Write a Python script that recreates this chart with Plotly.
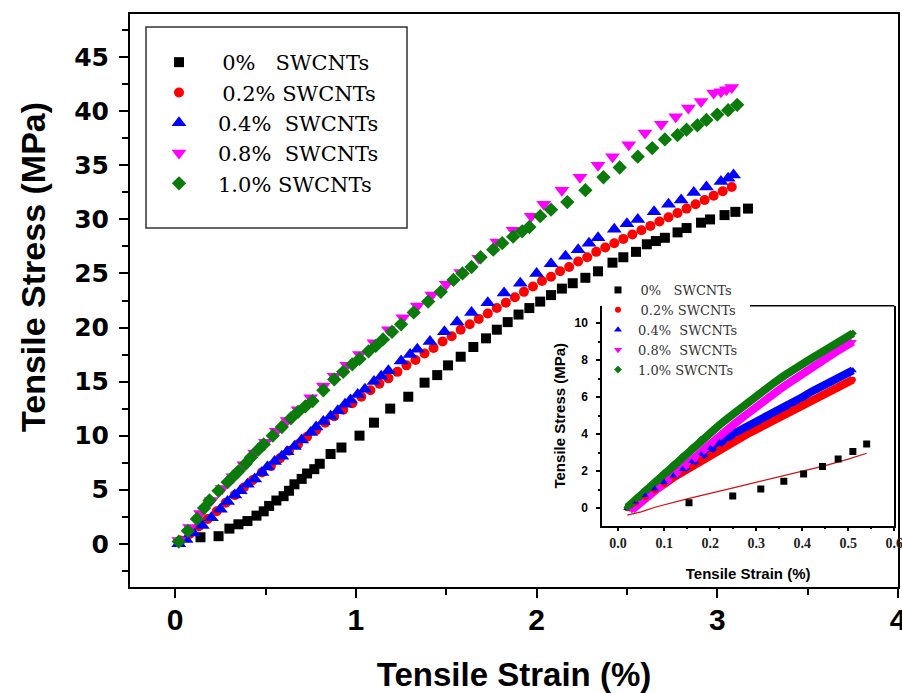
import plotly.graph_objects as go

# ---------------- main plot data ----------------
names_main = ["\u20090%\u00a0\u00a0\u00a0SWCNTs", "\u20090.2%\u00a0SWCNTs", "0.4%\u00a0\u00a0SWCNTs",
              "0.8%\u00a0\u00a0SWCNTs", "1.0%\u00a0SWCNTs"]

x_0 = [0.14, 0.24, 0.30, 0.35, 0.40, 0.45, 0.49, 0.52, 0.56, 0.60, 0.63, 0.66, 0.70, 0.73, 0.77,
       0.80, 0.86, 0.92, 1.02, 1.10, 1.19, 1.29, 1.38, 1.45, 1.51, 1.58, 1.65, 1.72, 1.78, 1.84,
       1.90, 1.96, 2.02, 2.08, 2.14, 2.20, 2.27, 2.34, 2.42, 2.48, 2.55, 2.61, 2.66, 2.71, 2.78,
       2.83, 2.91, 2.96, 3.04, 3.10, 3.17]
y_0 = [0.6, 0.7, 1.4, 1.8, 2.1, 2.6, 3.0, 3.5, 4.0, 4.4, 4.9, 5.5, 6.0, 6.5, 6.9,
       7.4, 8.3, 8.9, 10.0, 11.2, 12.5, 13.6, 14.9, 15.6, 16.5, 17.3, 18.2, 19.0, 19.8, 20.5,
       21.2, 21.8, 22.4, 23.0, 23.6, 24.1, 24.6, 25.2, 26.0, 26.5, 27.0, 27.7, 28.0, 28.3, 28.8,
       29.2, 29.7, 30.0, 30.4, 30.7, 31.0]

x_02 = [0.03, 0.08, 0.13, 0.18, 0.23, 0.28, 0.33, 0.38, 0.43, 0.48, 0.53, 0.58, 0.63, 0.68, 0.73,
        0.78, 0.83, 0.88, 0.93, 0.98, 1.03, 1.08, 1.13, 1.18, 1.23, 1.28, 1.33, 1.38, 1.43, 1.48,
        1.53, 1.58, 1.63, 1.68, 1.73, 1.78, 1.83, 1.88, 1.93, 1.98, 2.03, 2.08, 2.13, 2.18, 2.23,
        2.28, 2.33, 2.38, 2.43, 2.48, 2.53, 2.58, 2.63, 2.68, 2.73, 2.78, 2.83, 2.88, 2.93, 2.98,
        3.03, 3.08]
y_02 = [0.3, 0.9, 1.6, 2.3, 3.0, 3.8, 4.5, 5.2, 5.9, 6.6, 7.2, 7.9, 8.6, 9.2, 9.9,
        10.5, 11.2, 11.8, 12.4, 13.0, 13.6, 14.2, 14.8, 15.3, 15.9, 16.5, 17.0, 17.6, 18.1, 18.7,
        19.2, 19.8, 20.3, 20.8, 21.3, 21.8, 22.3, 22.8, 23.3, 23.8, 24.3, 24.7, 25.2, 25.6, 26.1,
        26.5, 27.0, 27.4, 27.8, 28.2, 28.6, 29.0, 29.4, 29.8, 30.2, 30.6, 31.0, 31.4, 31.8, 32.2,
        32.6, 33.0]

x_04 = [0.02, 0.06, 0.10, 0.15, 0.20, 0.25, 0.29, 0.33, 0.36, 0.40, 0.44, 0.48, 0.51, 0.55, 0.59,
        0.62, 0.66, 0.70, 0.75, 0.78, 0.82, 0.86, 0.90, 0.94, 0.97, 1.01, 1.05, 1.10, 1.14, 1.18,
        1.25, 1.30, 1.34, 1.41, 1.49, 1.56, 1.64, 1.73, 1.82, 1.91, 2.00, 2.08, 2.16, 2.23, 2.29,
        2.34, 2.43, 2.50, 2.56, 2.65, 2.73, 2.80, 2.87, 2.94, 3.02, 3.06, 3.09]
y_04 = [0.0, 0.4, 1.0, 1.7, 2.4, 3.2, 3.9, 4.5, 4.9, 5.5, 6.0, 6.6, 7.1, 7.6, 8.1,
        8.5, 9.0, 9.6, 10.3, 10.8, 11.3, 11.8, 12.3, 12.9, 13.3, 13.8, 14.3, 15.0, 15.5, 16.0,
        16.9, 17.5, 18.0, 18.7, 19.6, 20.5, 21.4, 22.3, 23.2, 24.1, 25.0, 25.9, 26.6, 27.2, 27.8,
        28.3, 29.1, 29.6, 30.0, 30.7, 31.4, 31.8, 32.5, 33.0, 33.5, 33.8, 34.1]

x_08 = [0.02, 0.08, 0.14, 0.20, 0.26, 0.32, 0.38, 0.44, 0.50, 0.56, 0.62, 0.68, 0.75, 0.82, 0.88,
        0.95, 1.02, 1.10, 1.18, 1.26, 1.34, 1.42, 1.50, 1.58, 1.68, 1.78, 1.87, 1.97, 2.04, 2.14,
        2.24, 2.34, 2.42, 2.51, 2.60, 2.69, 2.77, 2.84, 2.91, 2.98, 3.02, 3.05, 3.08]
y_08 = [0.3, 1.5, 2.8, 4.0, 5.1, 6.2, 7.3, 8.4, 9.4, 10.4, 11.4, 12.4, 13.5, 14.6, 15.5,
        16.5, 17.5, 18.6, 19.8, 20.9, 22.0, 23.0, 24.0, 25.1, 26.4, 27.9, 29.0, 30.3, 31.4, 32.7,
        33.9, 35.0, 35.8, 36.9, 38.0, 38.8, 39.5, 40.3, 40.9, 41.7, 41.8, 42.0, 42.2]

x_10 = [0.02, 0.07, 0.12, 0.16, 0.19, 0.24, 0.29, 0.32, 0.35, 0.39, 0.42, 0.46, 0.49, 0.54, 0.59,
        0.64, 0.68, 0.72, 0.76, 0.82, 0.88, 0.93, 0.98, 1.02, 1.07, 1.11, 1.15, 1.20, 1.25, 1.32,
        1.40, 1.47, 1.54, 1.59, 1.64, 1.69, 1.76, 1.81, 1.87, 1.92, 1.96, 2.02, 2.08, 2.17, 2.27,
        2.37, 2.46, 2.56, 2.64, 2.71, 2.78, 2.83, 2.89, 2.94, 3.00, 3.06, 3.11]
y_10 = [0.2, 1.2, 2.3, 3.3, 4.0, 4.9, 5.7, 6.2, 6.7, 7.4, 8.0, 8.7, 9.2, 10.0, 10.8,
        11.6, 12.2, 12.7, 13.2, 14.2, 15.2, 15.9, 16.6, 17.1, 17.8, 18.3, 18.9, 19.6, 20.3, 21.4,
        22.4, 23.3, 24.4, 25.0, 25.6, 26.5, 27.2, 27.8, 28.4, 28.9, 29.3, 30.3, 30.9, 31.6, 32.7,
        33.9, 34.8, 35.8, 36.6, 37.4, 37.8, 38.3, 38.7, 39.2, 39.7, 40.1, 40.6]

# ---------------- inset data ----------------
names_inset = ["\u20090%\u00a0\u00a0\u00a0SWCNTs", "\u20090.2%\u00a0SWCNTs", "0.4%\u00a0\u00a0SWCNTs",
               "0.8%\u00a0\u00a0SWCNTs", "1.0%\u00a0SWCNTs"]

ix_0 = [0.154, 0.249, 0.31, 0.36, 0.403, 0.444, 0.478, 0.51, 0.54]
iy_0 = [0.29, 0.65, 1.04, 1.46, 1.85, 2.25, 2.66, 3.06, 3.47]

ix_fit = [0.02, 0.05, 0.08, 0.15, 0.25, 0.35, 0.45, 0.50, 0.54]
iy_fit = [-0.38, -0.2, 0.05, 0.5, 1.1, 1.7, 2.3, 2.65, 2.97]

ix_02 = [0.02, 0.04, 0.06, 0.08, 0.10, 0.12, 0.14, 0.16, 0.18, 0.20, 0.22, 0.24, 0.26,
         0.28, 0.30, 0.32, 0.34, 0.36, 0.38, 0.40, 0.42, 0.44, 0.46, 0.48, 0.50, 0.51]
iy_02 = [0.0, 0.3, 0.6, 0.95, 1.3, 1.65, 1.95, 2.3, 2.6, 2.9, 3.2, 3.45, 3.75,
         4.0, 4.25, 4.5, 4.8, 5.05, 5.35, 5.6, 5.85, 6.1, 6.35, 6.6, 6.85, 6.95]

ix_04 = [0.02, 0.04, 0.06, 0.08, 0.10, 0.12, 0.14, 0.16, 0.18, 0.20, 0.22, 0.24, 0.26,
         0.28, 0.30, 0.32, 0.34, 0.36, 0.38, 0.40, 0.42, 0.44, 0.46, 0.48, 0.50, 0.51]
iy_04 = [0.0, 0.35, 0.7, 1.05, 1.4, 1.75, 2.1, 2.5, 2.9, 3.25, 3.55, 3.85, 4.15,
         4.4, 4.7, 5.0, 5.25, 5.5, 5.75, 6.0, 6.3, 6.55, 6.8, 7.05, 7.3, 7.45]

ix_08 = [0.03, 0.05, 0.07, 0.09, 0.11, 0.13, 0.15, 0.17, 0.19, 0.21, 0.23, 0.25, 0.27,
         0.29, 0.31, 0.33, 0.35, 0.37, 0.39, 0.41, 0.43, 0.45, 0.47, 0.49, 0.51]
iy_08 = [-0.1, 0.3, 0.7, 1.1, 1.5, 1.9, 2.35, 2.8, 3.25, 3.7, 4.1, 4.5, 4.9,
         5.3, 5.7, 6.05, 6.4, 6.75, 7.1, 7.45, 7.8, 8.1, 8.4, 8.7, 9.0]

ix_10 = [0.02, 0.04, 0.06, 0.08, 0.10, 0.12, 0.14, 0.16, 0.18, 0.20, 0.22, 0.24, 0.26,
         0.28, 0.30, 0.32, 0.34, 0.36, 0.38, 0.40, 0.42, 0.44, 0.46, 0.48, 0.50, 0.51]
iy_10 = [0.05, 0.5, 1.0, 1.45, 1.9, 2.35, 2.8, 3.25, 3.7, 4.1, 4.5, 4.9, 5.3,
         5.7, 6.1, 6.45, 6.8, 7.15, 7.5, 7.8, 8.1, 8.4, 8.7, 9.0, 9.3, 9.45]

main_x_ticks = [0, 1, 2, 3, 4]
main_y_ticks = [0, 5, 10, 15, 20, 25, 30, 35, 40, 45]
inset_x_ticks = [0.0, 0.1, 0.2, 0.3, 0.4, 0.5, 0.6]
inset_y_ticks = [0, 2, 4, 6, 8, 10]

# ---------------- styles ----------------
colors = ["#000000", "#ff0000", "#0000ff", "#ff00ff", "#0a7a0a"]
symbols = ["square", "circle", "triangle-up", "triangle-down", "diamond"]
main_sizes = [10, 10, 13, 13, 11]
inset_sizes = [7, 6, 7, 7, 6]

fig = go.Figure()

main_series = [(x_0, y_0), (x_02, y_02), (x_04, y_04), (x_08, y_08), (x_10, y_10)]
for i, (xs, ys) in enumerate(main_series):
    fig.add_trace(go.Scatter(
        x=xs, y=ys, mode="markers", name=names_main[i],
        marker=dict(symbol=symbols[i], color=colors[i], size=main_sizes[i], line=dict(width=0)),
        legend="legend", legendgroup="m%d" % i, xaxis="x", yaxis="y"))

# inset bands (line underlay, no legend)
inset_series = [(ix_02, iy_02, 1), (ix_04, iy_04, 2), (ix_08, iy_08, 3), (ix_10, iy_10, 4)]
for xs, ys, ci in inset_series:
    fig.add_trace(go.Scatter(
        x=xs, y=ys, mode="lines", line=dict(color=colors[ci], width=8),
        showlegend=False, hoverinfo="skip", xaxis="x2", yaxis="y2"))

# inset linear fit line
fig.add_trace(go.Scatter(
    x=ix_fit, y=iy_fit, mode="lines", line=dict(color="#d01010", width=1.2),
    showlegend=False, xaxis="x2", yaxis="y2"))

inset_all = [(ix_0, iy_0), (ix_02, iy_02), (ix_04, iy_04), (ix_08, iy_08), (ix_10, iy_10)]
for i, (xs, ys) in enumerate(inset_all):
    fig.add_trace(go.Scatter(
        x=xs, y=ys, mode="markers", name=names_inset[i],
        marker=dict(symbol=symbols[i], color=colors[i], size=inset_sizes[i], line=dict(width=0)),
        legend="legend2", legendgroup="i%d" % i, xaxis="x2", yaxis="y2"))

W, H = 902, 693
L, R, T, B = 130, 4, 14, 106
pw, ph = W - L - R, H - T - B


def px(xp):
    return (xp - L) / pw


def py(yp):
    return (H - B - yp) / ph


bold_sans = "Liberation Sans, Arial, sans-serif"
serif = "DejaVu Serif, Liberation Serif, serif"

fig.update_layout(
    width=W, height=H,
    margin=dict(l=L, r=R, t=T, b=B, autoexpand=False),
    paper_bgcolor="white", plot_bgcolor="white",
    showlegend=True,
    xaxis=dict(
        domain=[0, 1], range=[-0.25, 4.0], tickvals=main_x_ticks, automargin=False,
        showline=True, linecolor="black", linewidth=2, mirror=True,
        ticks="outside", ticklen=9, tickwidth=2, tickcolor="black",
        minor=dict(dtick=0.5, ticks="outside", ticklen=6, tickwidth=2, tickcolor="black"),
        showgrid=False, zeroline=False, ticklabeloverflow="allow",
        tickfont=dict(family=bold_sans, size=30, color="black", weight="bold"),
        ticklabelstandoff=-4,
        title=dict(text="Tensile Strain (%)", standoff=29,
                   font=dict(family=bold_sans, size=33, color="black", weight="bold")),
    ),
    yaxis=dict(
        domain=[0, 1], range=[-4, 49], tickvals=main_y_ticks, automargin=False,
        showline=True, linecolor="black", linewidth=2, mirror=True,
        ticks="outside", ticklen=9, tickwidth=2, tickcolor="black",
        minor=dict(dtick=2.5, ticks="outside", ticklen=6, tickwidth=2, tickcolor="black"),
        showgrid=False, zeroline=False,
        tickfont=dict(family="DejaVu Sans, sans-serif", size=25, color="black", weight="bold"),
        ticklabelstandoff=5,
    ),
    xaxis2=dict(
        domain=[px(602), px(894.3)], range=[-0.035, 0.6], anchor="y2", automargin=False,
        tickvals=inset_x_ticks, tickformat=".1f", ticklabeloverflow="allow",
        showline=True, linecolor="black", linewidth=1.5, mirror=False,
        ticks="outside", ticklen=4, tickwidth=1.5, tickcolor="black",
        minor=dict(dtick=0.05, ticks="outside", ticklen=2, tickwidth=1.5, tickcolor="black"),
        showgrid=False, zeroline=False,
        tickfont=dict(family="Liberation Serif, serif", size=14, color="#222", weight="bold"),
        title=dict(text="Tensile Strain (%)", standoff=18,
                   font=dict(family=bold_sans, size=15, color="black", weight="bold")),
    ),
    yaxis2=dict(
        domain=[py(525.7), py(305.7)], range=[-0.95, 10.95], anchor="x2", automargin=False,
        tickvals=inset_y_ticks,
        showline=True, linecolor="black", linewidth=1.5, mirror=True,
        ticks="outside", ticklen=4, tickwidth=1.5, tickcolor="black",
        minor=dict(dtick=1, ticks="outside", ticklen=2, tickwidth=1.5, tickcolor="black"),
        showgrid=False, zeroline=False,
        tickfont=dict(family=bold_sans, size=12, color="black", weight="bold"),
        ticklabelstandoff=6,
        title=dict(text="Tensile Stress (MPa)", standoff=5,
                   font=dict(family=bold_sans, size=15, color="black", weight="bold")),
    ),
    legend=dict(
        x=px(140), y=py(42), xanchor="left", yanchor="top",
        bgcolor="rgba(0,0,0,0)", borderwidth=0, itemwidth=68,
        font=dict(family=serif, size=21, color="black"),
        traceorder="grouped", tracegroupgap=0, itemsizing="trace",
    ),
    legend2=dict(
        x=px(598), y=py(275), xanchor="left", yanchor="top",
        bgcolor="rgba(0,0,0,0)", borderwidth=0,
        font=dict(family=serif, size=13, color="#333"),
        traceorder="grouped", tracegroupgap=0, itemsizing="trace",
    ),
    annotations=[
        dict(text="Tensile Stress (MPa)", xref="paper", yref="paper",
             x=px(33), y=py(267), xanchor="center", yanchor="middle",
             textangle=-90, showarrow=False,
             font=dict(family=bold_sans, size=34, color="black", weight="bold")),
    ],
    shapes=[
        # legend box of the main chart
        dict(type="rect", xref="paper", yref="paper",
             x0=px(146), x1=px(407), y0=py(228), y1=py(27),
             line=dict(color="#333", width=1.5), fillcolor="rgba(0,0,0,0)"),
        # visible part of the inset's top frame
        dict(type="line", xref="paper", yref="paper",
             x0=px(750), x1=px(894.3), y0=py(305.7), y1=py(305.7),
             line=dict(color="black", width=1.5)),
    ],
)

fig.write_html("out.html", config=dict(displayModeBar=False),
               post_script="document.body.style.margin='0';document.body.style.overflow='hidden';")
